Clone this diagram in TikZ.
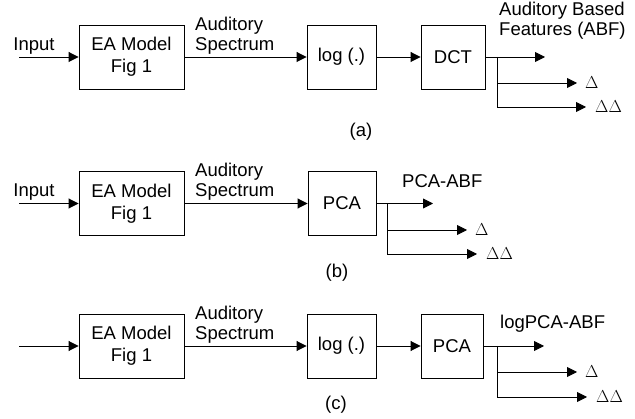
\documentclass[tikz,border=0pt]{standalone}
\usepackage{fontspec}
\setmainfont{Liberation Sans}
\newfontfamily\deltafont{Liberation Serif}
\usetikzlibrary{arrows.meta}
\tikzset{
  block/.style={draw, line width=0.9pt, inner sep=0pt, minimum height=64pt, align=center, font=\fontsize{18.5}{22}\selectfont},
  flow/.style={line width=0.9pt, -{Triangle[length=10pt,width=10pt]}},
  lbl/.style={inner sep=0pt, align=left, font=\fontsize{18.5}{20}\selectfont},
  dlt/.style={inner sep=0pt, anchor=west, font=\deltafont\fontsize{17}{18}\selectfont}
}
\begin{document}
\begin{tikzpicture}[x=1pt,y=-1pt]
\useasboundingbox (0,0) rectangle (635,419);
% (a)
\node[block, minimum width=105pt] (ea_a) at (131.5,57) {EA Model\\Fig 1};
\node[block, minimum width=69pt] (log_a) at (341.5,57) {log (.)};
\node[block, minimum width=64pt] (dct_a) at (453,57) {DCT};
\coordinate (in_a) at (19,57);
\coordinate (br_a) at (497,57);
\coordinate (abf_a) at (545,57);
\coordinate (d_a) at (577,83);
\coordinate (dd_a) at (586,107);
\node[lbl] (inlbl_a) at (34,46) {Input};
\node[lbl, anchor=south west] (spec_a) at (195,55) {Auditory\\Spectrum};
\node[lbl, anchor=south west] (abflbl_a) at (499,40) {Auditory Based\\Features (ABF)};
\node[dlt] (dlbl_a) at ([xshift=8pt]d_a) {$\Delta$};
\node[dlt] (ddlbl_a) at ([xshift=9pt]dd_a) {$\Delta\Delta$};
\node[lbl] (cap_a) at (361,132) {(a)};
\draw[flow] (in_a) -- (ea_a);
\draw[flow] (ea_a) -- (log_a);
\draw[flow] (log_a) -- (dct_a);
\draw[flow] (dct_a) -- (abf_a);
\draw[flow] (br_a) |- (dd_a);
\draw[flow] (br_a |- d_a) -- (d_a);
% (b)
\node[block, minimum width=105pt] (ea_b) at (131.5,203.5) {EA Model\\Fig 1};
\node[block, minimum width=68pt] (pca_b) at (342,203.5) {PCA};
\coordinate (in_b) at (19,203.5);
\coordinate (br_b) at (387,203.5);
\coordinate (abf_b) at (433,203.5);
\coordinate (d_b) at (467,230);
\coordinate (dd_b) at (477,254);
\node[lbl] (inlbl_b) at (34,192) {Input};
\node[lbl, anchor=south west] (spec_b) at (195,201) {Auditory\\Spectrum};
\node[lbl, anchor=west] (abflbl_b) at (402,181) {PCA-ABF};
\node[dlt] (dlbl_b) at ([xshift=8pt]d_b) {$\Delta$};
\node[dlt] (ddlbl_b) at ([xshift=9pt]dd_b) {$\Delta\Delta$};
\node[lbl] (cap_b) at (337,273) {(b)};
\draw[flow] (in_b) -- (ea_b);
\draw[flow] (ea_b) -- (pca_b);
\draw[flow] (pca_b) -- (abf_b);
\draw[flow] (br_b) |- (dd_b);
\draw[flow] (br_b |- d_b) -- (d_b);
% (c)
\node[block, minimum width=105pt] (ea_c) at (131.5,346) {EA Model\\Fig 1};
\node[block, minimum width=69pt] (log_c) at (341.5,346) {log (.)};
\node[block, minimum width=62pt] (pca_c) at (452,346) {PCA};
\coordinate (in_c) at (19,346);
\coordinate (br_c) at (497,346);
\coordinate (abf_c) at (544,346);
\coordinate (d_c) at (577,372);
\coordinate (dd_c) at (587,397);
\node[lbl, anchor=south west] (spec_c) at (195,344) {Auditory\\Spectrum};
\node[lbl, anchor=west] (abflbl_c) at (500,324) {logPCA-ABF};
\node[dlt] (dlbl_c) at ([xshift=8pt]d_c) {$\Delta$};
\node[dlt] (ddlbl_c) at ([xshift=9pt]dd_c) {$\Delta\Delta$};
\node[lbl] (cap_c) at (336,405) {(c)};
\draw[flow] (in_c) -- (ea_c);
\draw[flow] (ea_c) -- (log_c);
\draw[flow] (log_c) -- (pca_c);
\draw[flow] (pca_c) -- (abf_c);
\draw[flow] (br_c) |- (dd_c);
\draw[flow] (br_c |- d_c) -- (d_c);
\end{tikzpicture}
\end{document}
